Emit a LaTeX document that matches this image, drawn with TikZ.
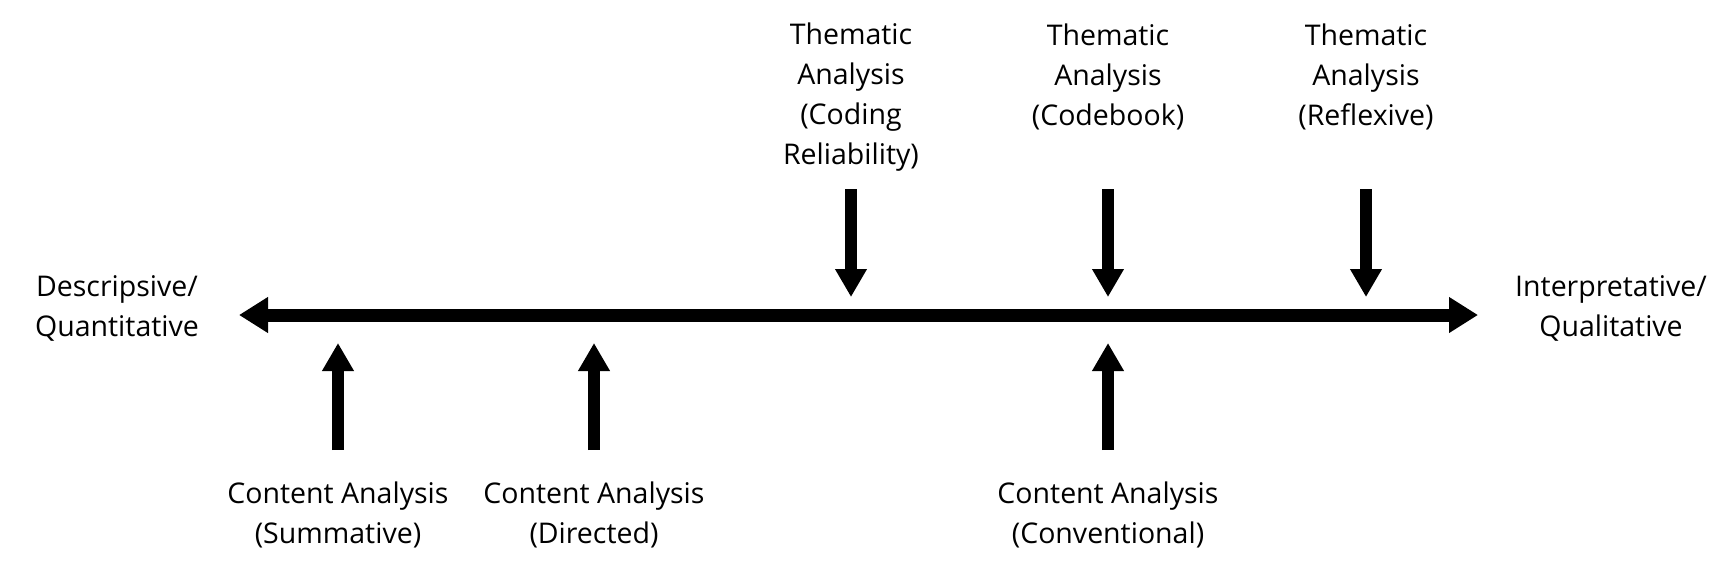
\documentclass[tikz,border=0pt]{standalone}
\usepackage{fontspec}
\setmainfont{Open Sans}
\usetikzlibrary{arrows.meta}

\tikzset{
    axis/.style={line width=13pt, {Triangle[length=29pt,width=34pt]}-{Triangle[length=29pt,width=34pt]}},
    pointer/.style={line width=12pt, -{Triangle[length=28pt,width=30pt]}},
    term/.style={align=center, inner sep=0pt}
}

\begin{document}
\begin{tikzpicture}[x=1pt, y=-1pt, font=\fontsize{28.5}{40}\selectfont]
            \useasboundingbox (0,0) rectangle (1720,584);
            % ends of the scale
            \node [term] (desc) at (117,308) {Descripsive/\\Quantitative};
            \node [term] (interp) at (1611,308) {Interpretative/\\Qualitative};
            \coordinate (l) at (239,315);
            \coordinate (r) at (1478,315);
            \draw [axis] (l) -- (r);
            % thematic analysis, above
            \node [term] (t1) at (851,97) {Thematic\\Analysis\\(Coding\\Reliability)};
            \node [term] (t2) at (1108,77) {Thematic\\Analysis\\(Codebook)};
            \node [term] (t3) at (1366,77) {Thematic\\Analysis\\(Reflexive)};
            \coordinate (t1a) at (851,189);
            \coordinate (t1b) at (851,297);
            \coordinate (t2a) at (1108,189);
            \coordinate (t2b) at (1108,297);
            \coordinate (t3a) at (1366,189);
            \coordinate (t3b) at (1366,297);
            \draw [pointer] (t1a) -- (t1b);
            \draw [pointer] (t2a) -- (t2b);
            \draw [pointer] (t3a) -- (t3b);
            % content analysis, below
            \node [term] (c1) at (338,515) {Content Analysis\\(Summative)};
            \node [term] (c2) at (594,515) {Content Analysis\\(Directed)};
            \node [term] (c3) at (1108,515) {Content Analysis\\(Conventional)};
            \coordinate (c1a) at (338,450);
            \coordinate (c1b) at (338,343);
            \coordinate (c2a) at (594,450);
            \coordinate (c2b) at (594,343);
            \coordinate (c3a) at (1108,450);
            \coordinate (c3b) at (1108,343);
            \draw [pointer] (c1a) -- (c1b);
            \draw [pointer] (c2a) -- (c2b);
            \draw [pointer] (c3a) -- (c3b);
        \end{tikzpicture}
\end{document}
